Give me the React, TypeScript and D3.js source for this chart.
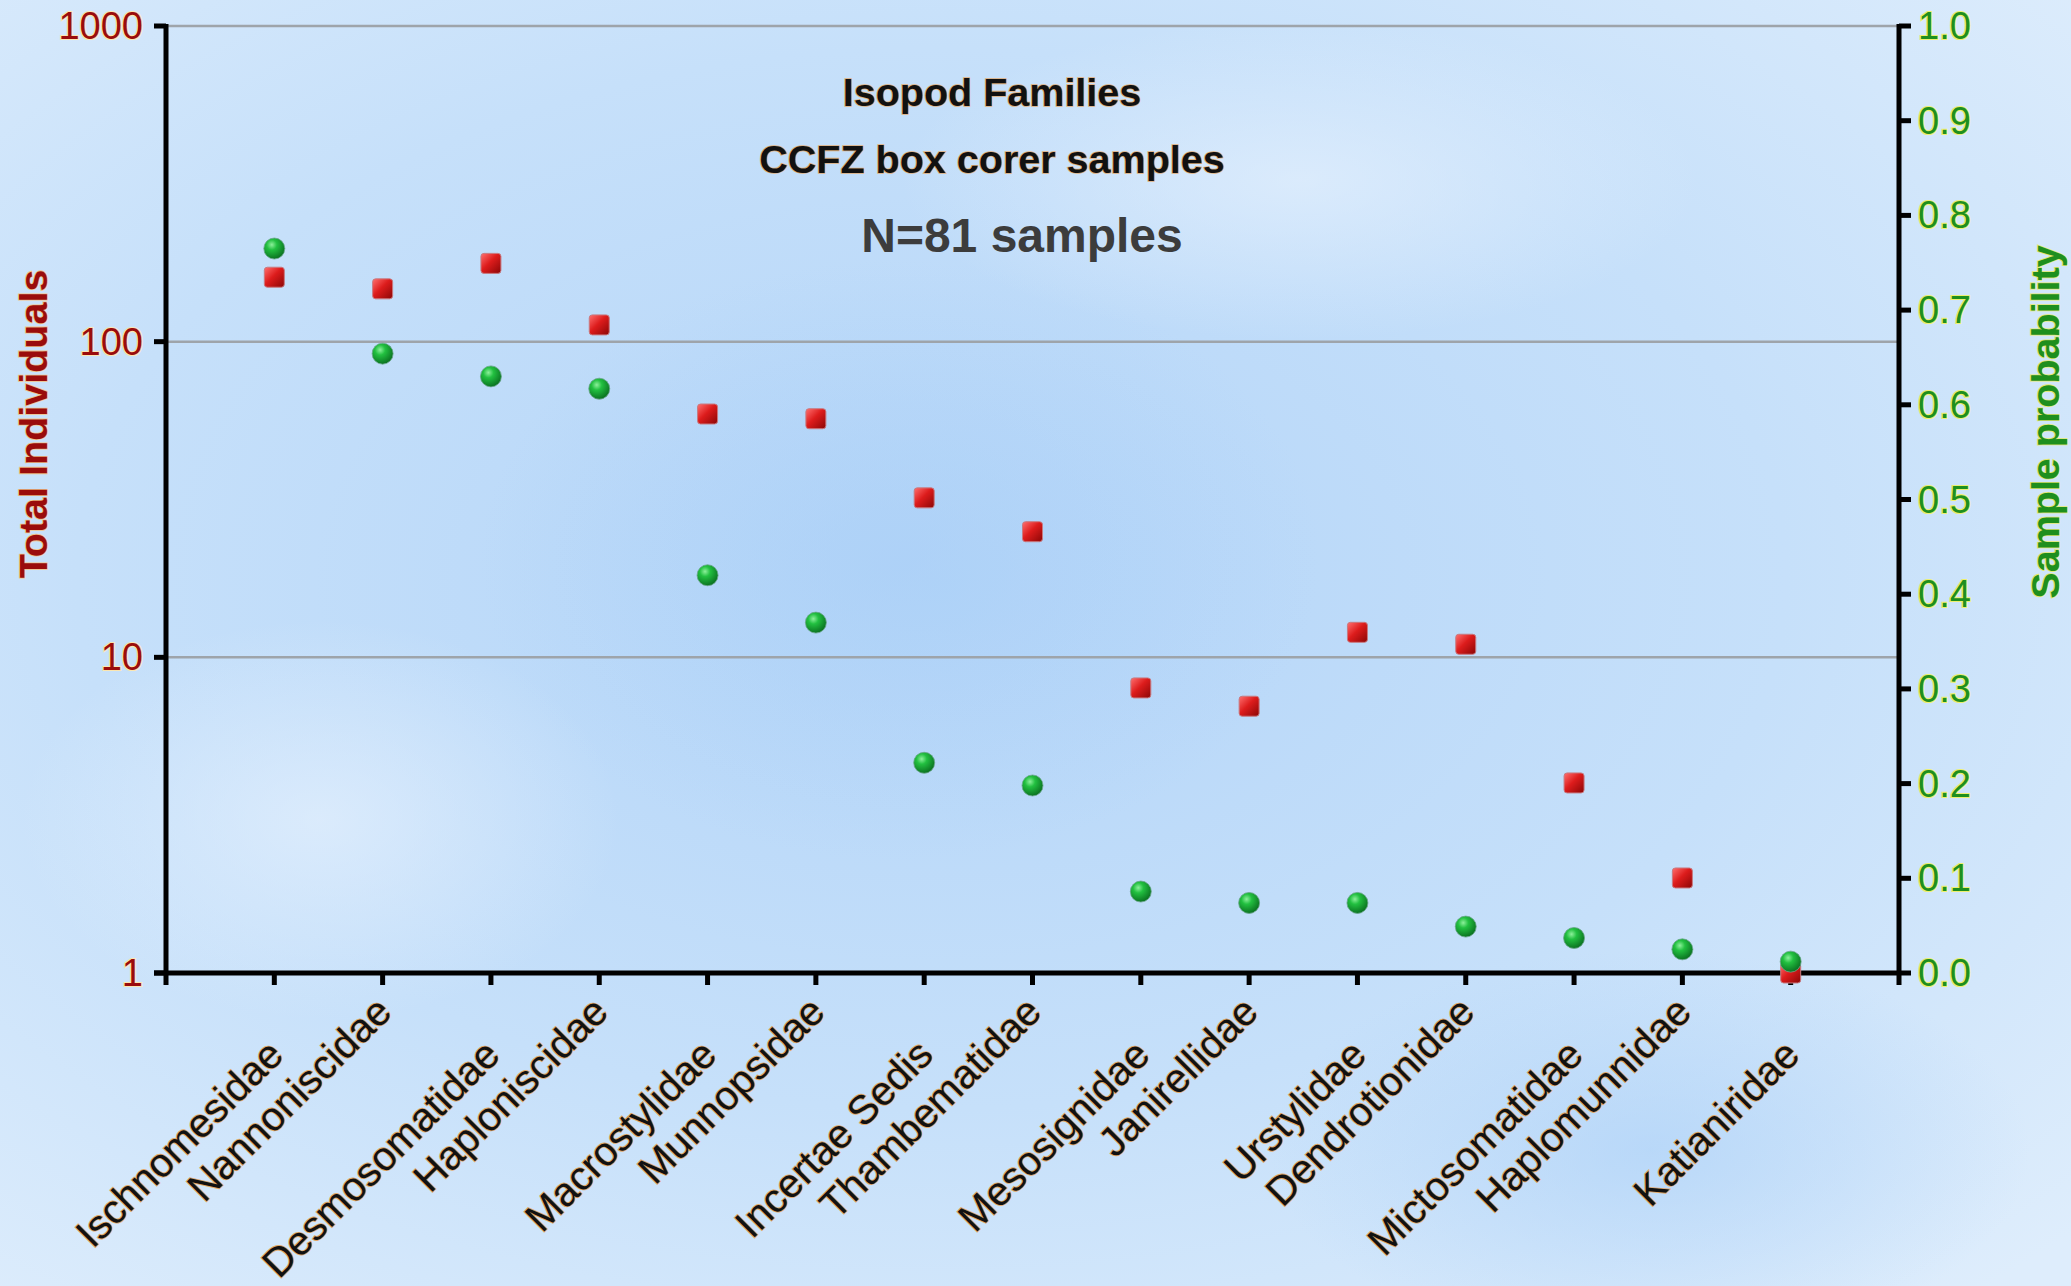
import React from 'react';
import * as d3 from 'd3';

// isopod family counts from CCFZ box corer samples
const families = [
  'Ischnomesidae', 'Nannoniscidae', 'Desmosomatidae', 'Haploniscidae',
  'Macrostylidae', 'Munnopsidae', 'Incertae Sedis', 'Thambematidae',
  'Mesosignidae', 'Janirellidae', 'Urstylidae', 'Dendrotionidae',
  'Mictosomatidae', 'Haplomunnidae', 'Katianiridae',
];
const totalIndividuals = [160, 147, 177, 113, 59, 57, 32, 25, 8, 7, 12, 11, 4, 2, 1];
const sampleProbability = [0.765, 0.654, 0.63, 0.617, 0.42, 0.37, 0.222, 0.198, 0.086, 0.074, 0.074, 0.049, 0.037, 0.025, 0.012];
const leftTicks = [1, 10, 100, 1000];
const rightTicks = [0, 0.1, 0.2, 0.3, 0.4, 0.5, 0.6, 0.7, 0.8, 0.9, 1.0];
const titleLines = ['Isopod Families', 'CCFZ box corer samples'];

const W = 2071;
const H = 1286;
const left = 166, right = 1899, top = 26, bottom = 973;

const App = () => {
  const x = d3.scalePoint<string>().domain(families).range([left, right]).padding(1);
  const yL = d3.scaleLog().domain([1, 1000]).range([bottom, top]);
  const yR = d3.scaleLinear().domain([0, 1]).range([bottom, top]);

  const font = 'Arial, "Liberation Sans", sans-serif';
  const sq = 20;

  return (
    <svg width={W} height={H} style={{ position: 'absolute', left: 0, top: 0, display: 'block' }}
      fontFamily={font}>
      <defs>
        <radialGradient id="bg" cx="0.45" cy="0.45" r="0.75">
          <stop offset="0" stopColor="#b4d5f8" />
          <stop offset="0.55" stopColor="#c6e0fa" />
          <stop offset="1" stopColor="#deedfc" />
        </radialGradient>
        <radialGradient id="blob" cx="0.5" cy="0.5" r="0.5">
          <stop offset="0" stopColor="#a9cff7" stopOpacity="0.6" />
          <stop offset="1" stopColor="#a9cff7" stopOpacity="0" />
        </radialGradient>
        <radialGradient id="light" cx="0.5" cy="0.5" r="0.5">
          <stop offset="0" stopColor="#e4f0fd" stopOpacity="0.7" />
          <stop offset="1" stopColor="#e4f0fd" stopOpacity="0" />
        </radialGradient>
        <linearGradient id="redSq" x1="0" y1="0" x2="1" y2="1">
          <stop offset="0" stopColor="#ff7070" />
          <stop offset="0.45" stopColor="#dd1c1c" />
          <stop offset="1" stopColor="#8a0606" />
        </linearGradient>
        <radialGradient id="greenDot" cx="0.38" cy="0.32" r="0.7">
          <stop offset="0" stopColor="#8cf09a" />
          <stop offset="0.35" stopColor="#22c040" />
          <stop offset="1" stopColor="#0a7020" />
        </radialGradient>
      </defs>

      <rect x={0} y={0} width={W} height={H} fill="url(#bg)" />
      <ellipse cx={900} cy={560} rx={420} ry={300} fill="url(#blob)" />
      <ellipse cx={1650} cy={1150} rx={380} ry={200} fill="url(#blob)" />
      <ellipse cx={320} cy={820} rx={300} ry={200} fill="url(#light)" />
      <ellipse cx={1300} cy={180} rx={400} ry={160} fill="url(#light)" />

      {/* gridlines */}
      {leftTicks.filter(t => t > 1).map(t => (
        <line key={'g' + t} x1={left} x2={right} y1={yL(t)} y2={yL(t)} stroke="#9ea4aa" strokeWidth={2.5} />
      ))}

      {/* title */}
      {titleLines.map((t, i) => (
        <text key={t} x={992} y={92 + i * 67} textAnchor="middle" dominantBaseline="central"
          fontWeight="bold" fontSize={39.5} fill="#111" stroke="#e0b07a" strokeWidth={1.6}
          style={{ paintOrder: 'stroke' }}>{t}</text>
      ))}
      <text x={1022} y={235} textAnchor="middle" dominantBaseline="central" fontWeight="bold"
        fontSize={48} fill="#3c3c3c">N=81 samples</text>

      {/* axes */}
      <line x1={left - 12} x2={right + 2} y1={bottom} y2={bottom} stroke="#000" strokeWidth={5} />
      <line x1={left} x2={left} y1={top - 2} y2={bottom + 12} stroke="#000" strokeWidth={5} />
      <line x1={right} x2={right} y1={top - 2} y2={bottom + 12} stroke="#000" strokeWidth={5} />

      {leftTicks.map(t => (
        <g key={'l' + t}>
          <line x1={left - 12} x2={left} y1={yL(t)} y2={yL(t)} stroke="#000" strokeWidth={5} />
          <text x={143} y={yL(t)} textAnchor="end" dominantBaseline="central" fontSize={38}
            fill="#9a0c0c" stroke="#fbe6b0" strokeWidth={2.2} style={{ paintOrder: 'stroke' }}>{t}</text>
        </g>
      ))}
      {rightTicks.map(t => (
        <g key={'r' + t}>
          <line x1={right} x2={right + 12} y1={yR(t)} y2={yR(t)} stroke="#000" strokeWidth={5} />
          <text x={1918} y={yR(t)} dominantBaseline="central" fontSize={38}
            fill="#1e8f1e" stroke="#eef070" strokeWidth={2.2} style={{ paintOrder: 'stroke' }}>{t.toFixed(1)}</text>
        </g>
      ))}
      {families.map((f, i) => (
        <g key={'x' + f}>
          <line x1={x(f)} x2={x(f)} y1={bottom} y2={bottom + 12} stroke="#000" strokeWidth={5} />
          <text transform={`translate(${(x(f) as number) + 11},${bottom + (i % 2 === 0 ? 84 : 41)}) rotate(-45)`}
            textAnchor="end" fontSize={40.5} fill="#111" stroke="#e0a868" strokeWidth={1.8}
            style={{ paintOrder: 'stroke' }}>{f}</text>
        </g>
      ))}

      {/* axis titles */}
      <text transform={`translate(33,424) rotate(-90)`} textAnchor="middle" dominantBaseline="central"
        fontWeight="bold" fontSize={39.5} fill="#9a0c0c" stroke="#f3c48a" strokeWidth={1.6}
        style={{ paintOrder: 'stroke' }}>Total Individuals</text>
      <text transform={`translate(2045,422) rotate(-90)`} textAnchor="middle" dominantBaseline="central"
        fontWeight="bold" fontSize={39.5} fill="#1e8f1e" stroke="#e6ea70" strokeWidth={1.6}
        style={{ paintOrder: 'stroke' }}>Sample probability</text>

      {/* red squares: total individuals */}
      {families.map((f, i) => (
        <rect key={'s' + f} x={(x(f) as number) - sq / 2} y={yL(totalIndividuals[i]) - sq / 2}
          width={sq} height={sq} rx={3} fill="url(#redSq)" stroke="#c87a80" strokeWidth={1} />
      ))}
      {/* green dots: sample probability */}
      {families.map((f, i) => (
        <circle key={'c' + f} cx={x(f)} cy={yR(sampleProbability[i])} r={10.5}
          fill="url(#greenDot)" stroke="#6aa68a" strokeWidth={0.8} />
      ))}
    </svg>
  );
};

export default App;
